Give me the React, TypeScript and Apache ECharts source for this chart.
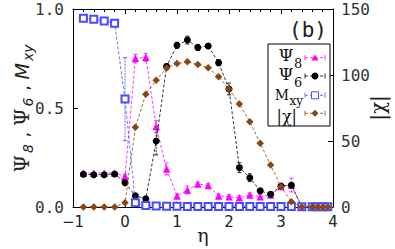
import React, { useEffect, useRef } from "react";
import * as echarts from "echarts";

const eta = [-0.8, -0.6, -0.4, -0.2, 0, 0.2, 0.4, 0.6, 0.8, 1.0, 1.2, 1.4, 1.6, 1.8, 2.0, 2.2, 2.4, 2.6, 2.8, 3.0, 3.2, 3.4, 3.6, 3.7, 3.8, 3.9];
const psi8 = [0.172, 0.172, 0.172, 0.172, 0.155, 0.751, 0.756, 0.406, 0.192, 0.056, 0.086, 0.116, 0.108, 0.056, 0.052, 0.047, 0.061, 0.052, 0.061, 0.103, 0.111, 0, 0, 0, 0, 0];
const psi8Err = [0, 0, 0, 0, 0.01, 0.02, 0.02, 0.03, 0.03, 0.01, 0.02, 0.01, 0.01, 0.01, 0.01, 0.01, 0.01, 0.01, 0.01, 0.01, 0.035, 0, 0, 0, 0, 0];
const psi6 = [0.165, 0.163, 0.163, 0.167, 0.122, 0.057, 0.042, 0.333, 0.709, 0.817, 0.843, 0.806, 0.813, 0.729, 0.596, 0.199, 0.148, 0.082, 0.064, 0.106, 0.11, 0, 0, 0, 0, 0];
const psi6Err = [0, 0, 0, 0, 0.01, 0.01, 0.01, 0.07, 0.015, 0.015, 0.02, 0.015, 0.012, 0.015, 0.03, 0.025, 0.02, 0.01, 0.01, 0.01, 0.01, 0, 0, 0, 0, 0];
const mxy = [0.953, 0.948, 0.939, 0.928, 0.545, 0.022, 0.008, 0.005, 0.004, 0.004, 0.003, 0.003, 0.003, 0.003, 0.003, 0.003, 0.003, 0.002, 0.002, 0.002, 0.002, 0.001, 0.001, 0.001, 0.001, 0.001];
const mxyErr = [0, 0, 0, 0, 0.21, 0.015, 0.005, 0, 0, 0, 0, 0, 0, 0, 0, 0, 0, 0, 0, 0, 0, 0, 0, 0, 0, 0];
const chi = [0, 0, 0, 0, 3.2, 60.4, 85.4, 96, 105.3, 108.7, 110, 108, 105.5, 98.7, 89.4, 78, 64.6, 48.3, 31.8, 15.4, 4, 0, 0, 0, 0, 0];

const xTicks = [-1, 0, 1, 2, 3, 4];
const legendMain = ["Ψ", "Ψ", "M", "|χ|"];
const legendSub = ["8", "6", "xy", ""];

const C_PSI8 = "#ff00ff";
const C_PSI6 = "#000000";
const C_MXY = "#4a4aff";
const C_CHI = "#8b4510";

function errSeries(vals: number[], errs: number[], color: string, z: number) {
  const data = eta
    .map((x, i) => [x, vals[i] - errs[i], vals[i] + errs[i], errs[i]])
    .filter((d) => d[3] > 0);
  return {
    type: "custom",
    xAxisIndex: 0,
    yAxisIndex: 0,
    silent: true,
    z,
    data,
    encode: { x: 0, y: [1, 2] },
    renderItem: (params: any, api: any) => {
      const x = api.value(0);
      const lo = api.coord([x, api.value(1)]);
      const hi = api.coord([x, api.value(2)]);
      const w = 2;
      const st = { stroke: color, lineWidth: 0.8 };
      return {
        type: "group",
        children: [
          { type: "line", shape: { x1: lo[0], y1: lo[1], x2: hi[0], y2: hi[1] }, style: { ...st, lineDash: [2, 1] } },
          { type: "line", shape: { x1: lo[0] - w, y1: lo[1], x2: lo[0] + w, y2: lo[1] }, style: st },
          { type: "line", shape: { x1: hi[0] - w, y1: hi[1], x2: hi[0] + w, y2: hi[1] }, style: st },
        ],
      };
    },
  };
}

function legendGraphics() {
  const els: any[] = [];
  const boxL = 268, boxT = 44, boxR = 330, boxB = 126;
  els.push({
    type: "rect",
    shape: { x: boxL, y: boxT, width: boxR - boxL, height: boxB - boxT },
    style: { fill: "#fff", stroke: "#000", lineWidth: 1 },
    z: 100,
  });
  const rowY = [57.7, 76, 95.3, 113.3];
  const mainY = [55, 73.5, 94.5, 116];
  const subY = [63, 82, 101, 0];
  const mainX = [293.5, 293.5, 289, 297];
  const mainSize = [17, 17, 14, 16];
  const mainLH = [17, 17, 14, 16];
  const subSize = [13, 13, 12, 12];
  const colors = [C_PSI8, C_PSI6, C_MXY, C_CHI];
  const x1 = 305, x2 = 325, xm = 315;
  for (let i = 0; i < 4; i++) {
    els.push({
      type: "text",
      x: mainX[i],
      y: mainY[i],
      z: 101,
      style: {
        text: legendMain[i],
        font: `${mainSize[i]}px "DejaVu Serif"`,
        lineHeight: mainLH[i],
        fill: "#111",
        align: "right",
        verticalAlign: "middle",
        textAlign: "right",
        textVerticalAlign: "middle",
      },
    });
    if (legendSub[i]) {
      els.push({
        type: "text",
        x: mainX[i] + 0.5,
        y: subY[i],
        z: 101,
        style: {
          text: legendSub[i],
          font: `${subSize[i]}px "DejaVu Serif"`,
          lineHeight: subSize[i],
          fill: "#111",
          align: "left",
          verticalAlign: "middle",
          textAlign: "left",
          textVerticalAlign: "middle",
        },
      });
    }
    const c = colors[i];
    const y = rowY[i];
    const st = { stroke: c, lineWidth: 0.8 };
    els.push({ type: "line", z: 101, shape: { x1, y1: y, x2, y2: y }, style: { ...st, lineDash: [3, 2] } });
    els.push({ type: "line", z: 101, shape: { x1, y1: y - 2.5, x2: x1, y2: y + 2.5 }, style: st });
    els.push({ type: "line", z: 101, shape: { x1: x2, y1: y - 2.5, x2, y2: y + 2.5 }, style: st });
    const r = 3.5;
    if (i === 0) {
      els.push({ type: "polygon", z: 102, shape: { points: [[xm, y - r], [xm + r, y + r * 0.8], [xm - r, y + r * 0.8]] }, style: { fill: c } });
    } else if (i === 1) {
      els.push({ type: "circle", z: 102, shape: { cx: xm, cy: y, r: 3.5 }, style: { fill: c } });
    } else if (i === 2) {
      els.push({ type: "rect", z: 102, shape: { x: xm - 3.5, y: y - 3.5, width: 7, height: 7 }, style: { fill: "#fff", stroke: c, lineWidth: 1 } });
    } else {
      els.push({ type: "polygon", z: 102, shape: { points: [[xm, y - r], [xm + r, y], [xm, y + r], [xm - r, y]] }, style: { fill: c } });
    }
  }
  return els;
}

export default function App() {
  const ref = useRef<HTMLDivElement>(null);
  useEffect(() => {
    const chart = echarts.init(ref.current!, null, { renderer: "svg" });
    const monoLabel = { fontFamily: "DejaVu Sans Mono", fontSize: 16, color: "#333" };
    const lineSeries = (name: string, vals: number[], color: string, symbol: string, size: number, yIdx: number, z: number) => ({
      type: "line",
      name,
      xAxisIndex: 0,
      yAxisIndex: yIdx,
      data: eta.map((x, i) => [x, vals[i]]),
      symbol,
      symbolSize: size,
      z,
      lineStyle: { color, width: 0.8, type: [3, 2] },
      itemStyle: { color, borderColor: color, borderWidth: symbol.startsWith("empty") ? 1 : 0 },
    });
    chart.setOption({
      animation: false,
      grid: { left: 73, right: 62, top: 9, bottom: 42, containLabel: false, outerBoundsMode: "none" },
      xAxis: [
        {
          type: "value",
          position: "bottom",
          min: -1,
          max: 4,
          interval: 1,
          axisLine: { show: true, onZero: false, lineStyle: { color: "#000", width: 1 } },
          axisTick: { show: true, inside: true, length: 5, lineStyle: { color: "#000" } },
          minorTick: { show: true, splitNumber: 5, length: 3, lineStyle: { color: "#000" } },
          splitLine: { show: false },
          axisLabel: {
            margin: 7,
            fontFamily: "DejaVu Sans",
            fontSize: 15,
            color: "#222",
            formatter: (v: number) => (xTicks.includes(v) ? (v < 0 ? "−" + Math.abs(v) : String(v)) : ""),
          },
          name: "η",
          nameLocation: "middle",
          nameGap: 17,
          nameMoveOverlap: false,
          nameTextStyle: { fontFamily: "DejaVu Serif", fontSize: 19, lineHeight: 22, color: "#222" },
        },
        {
          type: "value",
          position: "top",
          min: -1,
          max: 4,
          interval: 1,
          axisLine: { show: true, onZero: false, lineStyle: { color: "#000", width: 1 } },
          axisTick: { show: true, inside: true, length: 5, lineStyle: { color: "#000" } },
          minorTick: { show: true, splitNumber: 5, length: 3, lineStyle: { color: "#000" } },
          splitLine: { show: false },
          axisLabel: { show: false },
        },
      ],
      yAxis: [
        {
          type: "value",
          position: "left",
          min: 0,
          max: 1,
          interval: 0.5,
          axisLine: { show: true, onZero: false, lineStyle: { color: "#000", width: 1 } },
          axisTick: { show: true, inside: true, length: 5, lineStyle: { color: "#000" } },
          splitLine: { show: false },
          axisLabel: { ...monoLabel, margin: 9, formatter: (v: number) => v.toFixed(1) },
          name: "{psi|Ψ}{sub|8}{c| , }{psi|Ψ}{sub|6}{c| , }{m|M}{sub|xy}",
          nameLocation: "middle",
          nameRotate: 90,
          nameGap: 39,
          nameMoveOverlap: false,
          nameTextStyle: {
            color: "#222",
            rich: {
              psi: { fontFamily: "DejaVu Serif", fontSize: 20, lineHeight: 24, color: "#222" },
              sub: { fontFamily: "DejaVu Sans", fontStyle: "italic", fontSize: 14, lineHeight: 24, padding: [12, 1, 0, 2], color: "#222" },
              c: { fontFamily: "DejaVu Sans", fontSize: 18, lineHeight: 24, color: "#222" },
              m: { fontFamily: "DejaVu Sans", fontStyle: "italic", fontSize: 19, lineHeight: 24, color: "#222" },
            },
          },
        },
        {
          type: "value",
          position: "right",
          min: 0,
          max: 150,
          interval: 50,
          axisLine: { show: true, onZero: false, lineStyle: { color: "#000", width: 1 } },
          axisTick: { show: true, inside: true, length: 5, lineStyle: { color: "#000" } },
          splitLine: { show: false },
          axisLabel: { ...monoLabel, margin: 8 },
          name: "|χ|",
          nameLocation: "middle",
          nameRotate: 90,
          nameGap: 34,
          nameMoveOverlap: false,
          nameTextStyle: { fontFamily: "DejaVu Serif", fontSize: 20, lineHeight: 22, color: "#222" },
        },
      ],
      graphic: [
        {
          type: "text",
          left: 289,
          top: 19,
          style: { text: "(b)", fontFamily: "DejaVu Sans Mono", fontSize: 21, fill: "#222" },
        },
        ...legendGraphics(),
      ],
      series: [
        errSeries(mxy, mxyErr, C_MXY, 2),
        errSeries(psi8, psi8Err, C_PSI8, 2),
        errSeries(psi6, psi6Err, C_PSI6, 2),
        lineSeries("Ψ8", psi8, C_PSI8, "triangle", 7.5, 0, 3),
        lineSeries("Ψ6", psi6, C_PSI6, "circle", 7, 0, 4),
        lineSeries("Mxy", mxy, C_MXY, "emptyRect", 7, 0, 5),
        lineSeries("|χ|", chi, C_CHI, "diamond", 7.5, 1, 6),
      ],
    });
    return () => chart.dispose();
  }, []);
  return <div ref={ref} style={{ position: "absolute", left: 0, top: 0, width: 395, height: 249 }} />;
}
